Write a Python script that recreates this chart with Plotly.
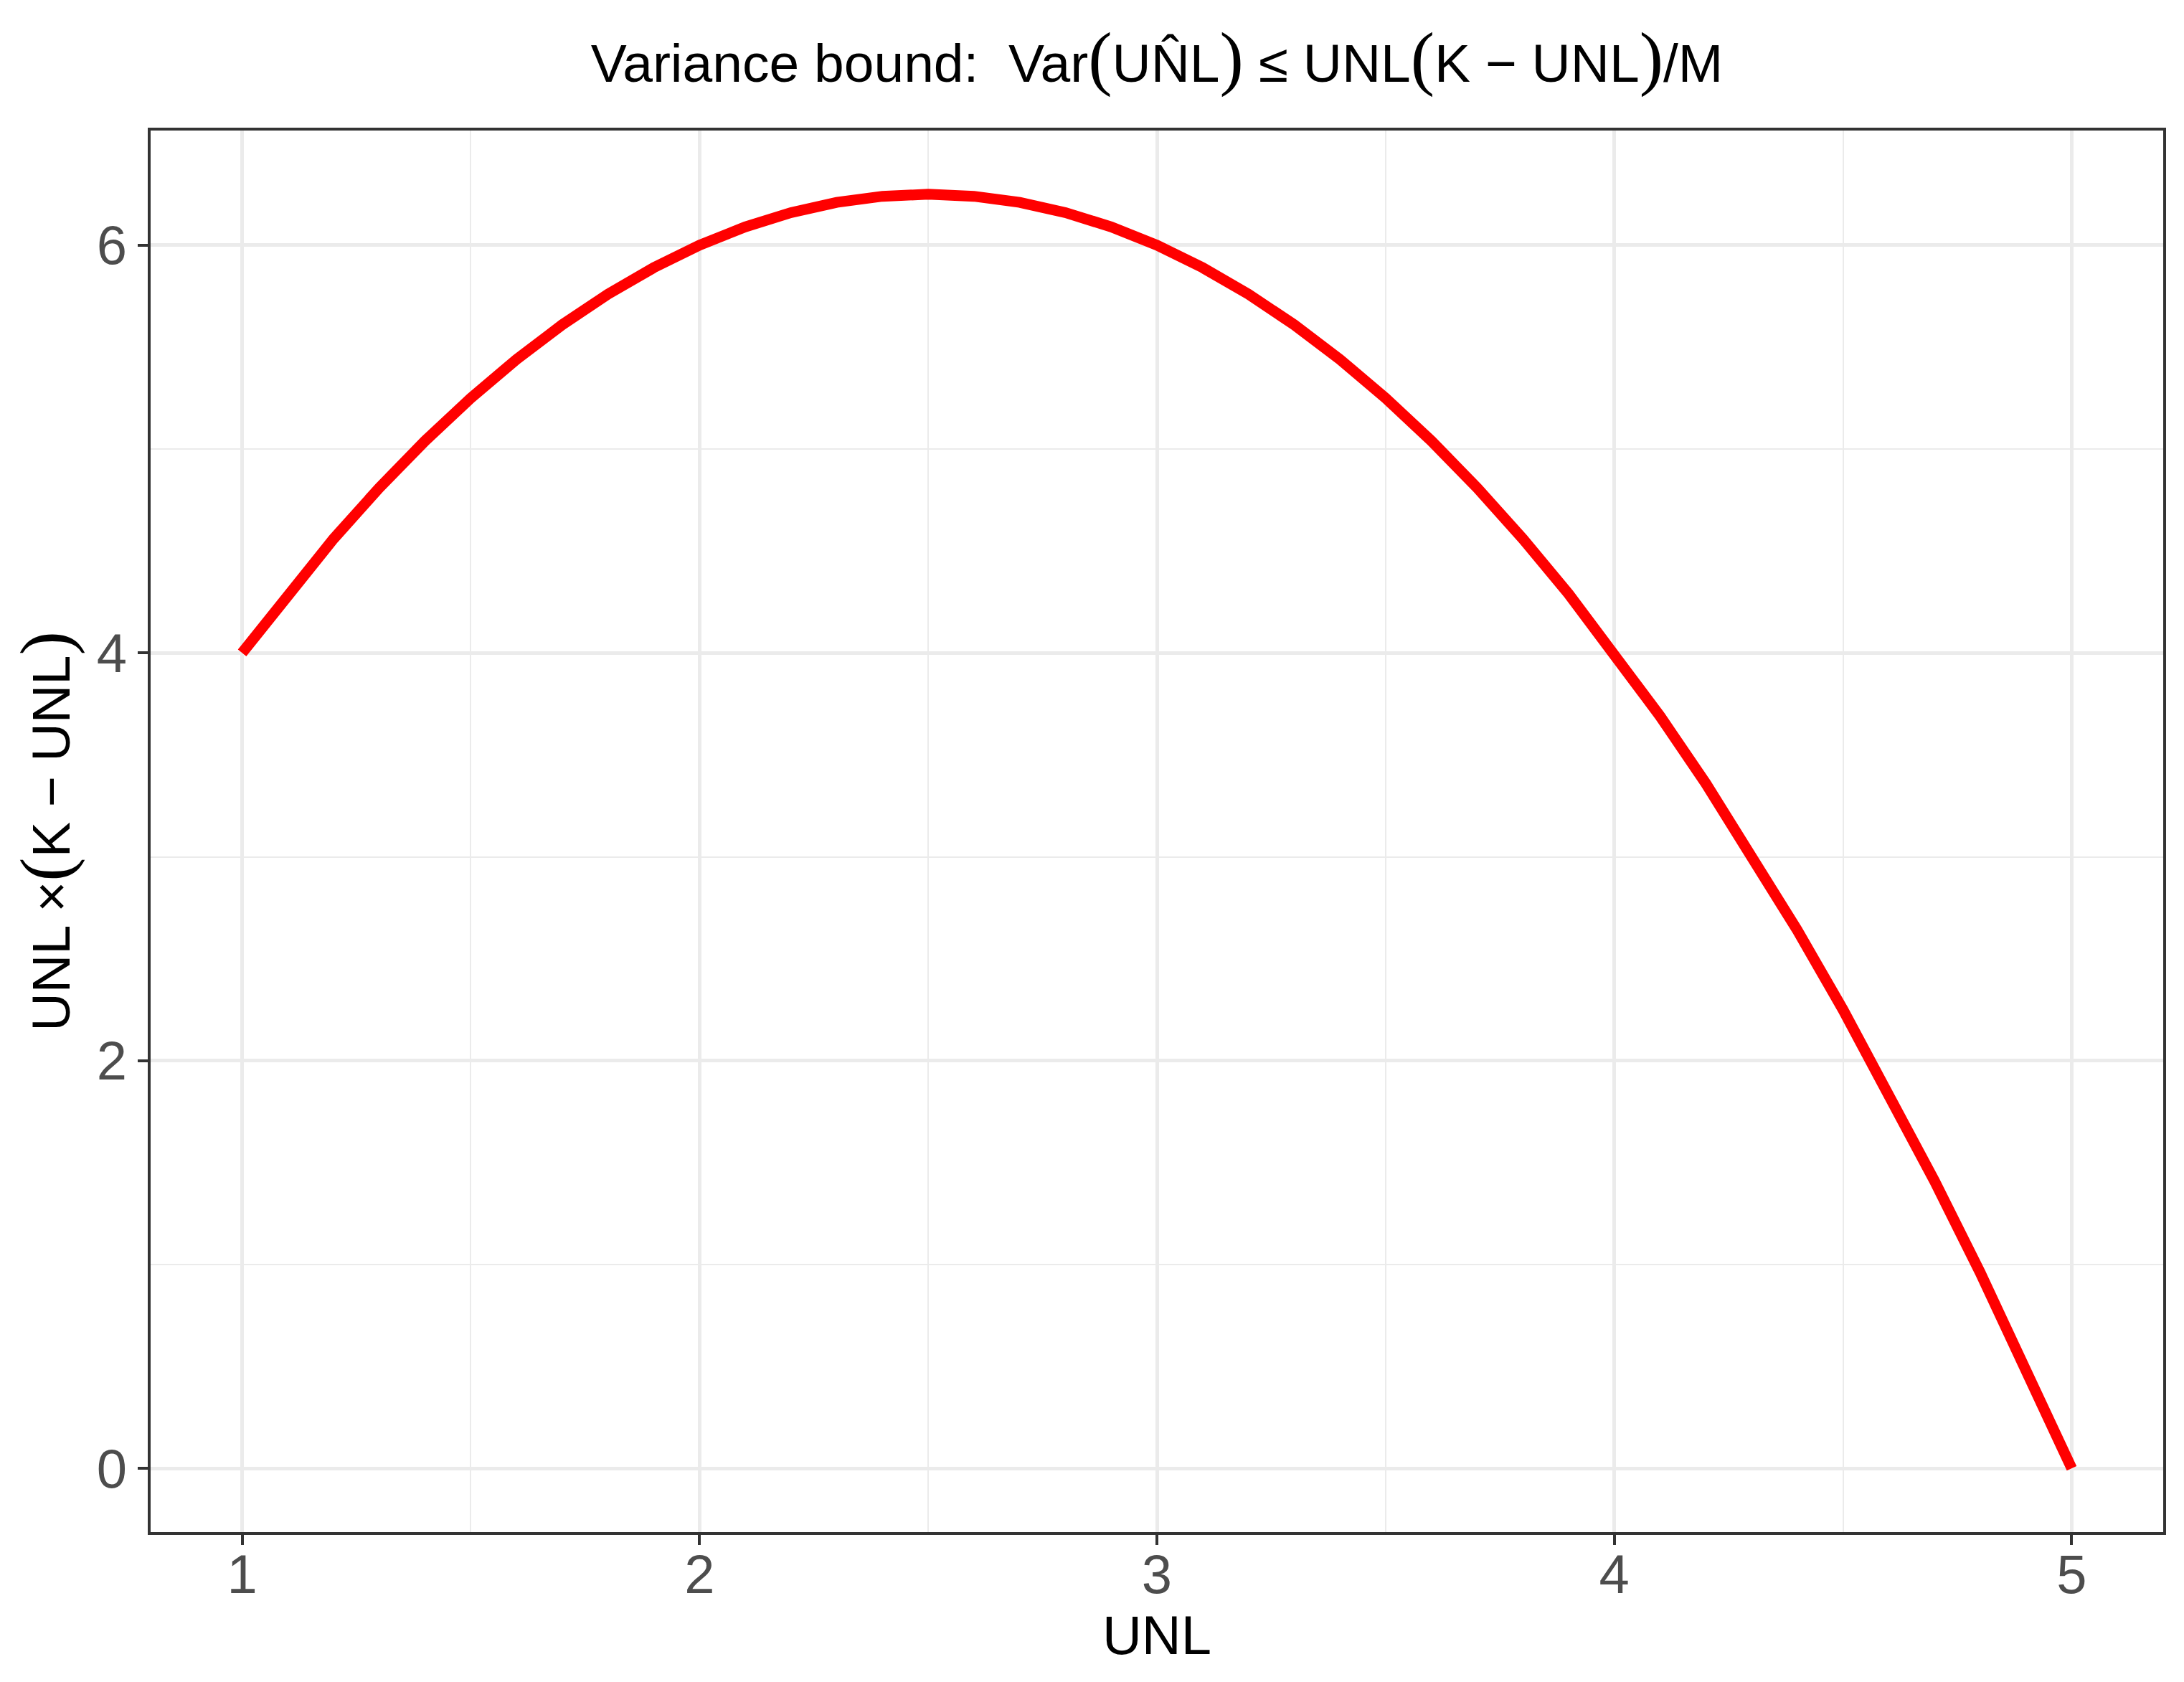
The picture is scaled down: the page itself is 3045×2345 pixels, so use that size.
import plotly.graph_objects as go

unl = [1.0, 1.1, 1.2, 1.3, 1.4, 1.5, 1.6, 1.7, 1.8, 1.9, 2.0, 2.1, 2.2, 2.3, 2.4,
       2.5, 2.6, 2.7, 2.8, 2.9, 3.0, 3.1, 3.2, 3.3, 3.4, 3.5, 3.6, 3.7, 3.8, 3.9,
       4.0, 4.1, 4.2, 4.3, 4.4, 4.5, 4.6, 4.7, 4.8, 4.9, 5.0]
bound = [4.00, 4.29, 4.56, 4.81, 5.04, 5.25, 5.44, 5.61, 5.76, 5.89, 6.00, 6.09, 6.16,
         6.21, 6.24, 6.25, 6.24, 6.21, 6.16, 6.09, 6.00, 5.89, 5.76, 5.61, 5.44, 5.25,
         5.04, 4.81, 4.56, 4.29, 4.00, 3.69, 3.36, 3.01, 2.64, 2.25, 1.84, 1.41, 0.96,
         0.49, 0.00]
x_ticks = [1, 2, 3, 4, 5]
y_ticks = [0, 2, 4, 6]

FONT = "Liberation Sans, Arial, sans-serif"
P = '<span style="font-family:Liberation Serif;font-size:100px">{}</span>'

# page body has an 8px margin; compensate so the figure fills the window exactly
OFF = 8
W, H = 3045 - OFF, 2345 - OFF

fig = go.Figure()
fig.add_trace(go.Scatter(x=unl, y=bound, mode="lines",
                         line=dict(color="#FF0000", width=15), showlegend=False))

title = ("Variance bound:  Var" + P.format("(") + "UN\u0302L" + P.format(")")
         + " \u2264 UNL" + P.format("(") + "K \u2212 UNL" + P.format(")") + "/M")
ytitle = "UNL \u00d7" + P.format("(") + "K \u2212 UNL" + P.format(")")

axis_common = dict(
    showline=True, mirror=True, linecolor="#333333", linewidth=3.5,
    showgrid=True, gridcolor="#EBEBEB", gridwidth=4.5,
    ticks="outside", ticklen=14, tickwidth=4, tickcolor="#333333",
    tickfont=dict(family=FONT, size=76, color="#4D4D4D"),
    zeroline=False,
    minor=dict(showgrid=True, gridcolor="#EBEBEB", gridwidth=2.3, ticks=""),
)

fig.update_layout(
    width=W, height=H,
    paper_bgcolor="white", plot_bgcolor="white",
    margin=dict(l=210 - OFF, r=29, t=182 - OFF, b=209),
    title=dict(text=title, x=((210 + 3016) / 2 - OFF) / W, xanchor="center",
               y=1 - (88 - OFF) / H, yanchor="middle", yref="container",
               font=dict(family=FONT, size=75, color="black")),
    xaxis=dict(range=[0.8, 5.2], tickvals=x_ticks, ticktext=[str(v) for v in x_ticks],
               ticklabelstandoff=-24,
               title=dict(text="UNL", font=dict(family=FONT, size=76, color="black"),
                          standoff=10),
               **axis_common),
    yaxis=dict(range=[-0.3125, 6.5625], tickvals=y_ticks,
               ticktext=[str(v) for v in y_ticks],
               title=dict(text=ytitle, font=dict(family=FONT, size=74, color="black"),
                          standoff=24),
               **axis_common),
)
fig.update_xaxes(minor=dict(tickvals=[1.5, 2.5, 3.5, 4.5]))
fig.update_yaxes(minor=dict(tickvals=[1, 3, 5]))

fig.write_html("out.html")
